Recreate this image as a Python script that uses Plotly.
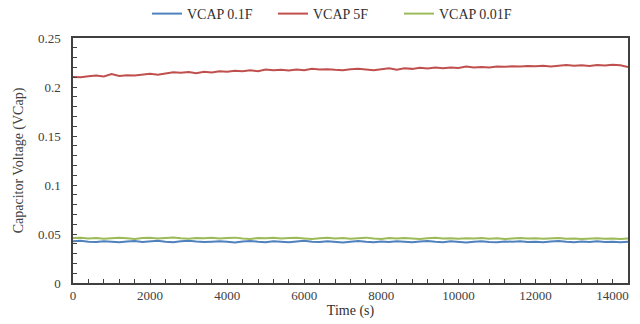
import plotly.graph_objects as go

time_s = list(range(0, 14401, 200))

vcap_5f = [
    0.2102, 0.2100, 0.2110, 0.2118, 0.2108, 0.2132, 0.2112, 0.2120, 0.2118, 0.2128,
    0.2135, 0.2125, 0.2140, 0.2150, 0.2145, 0.2152, 0.2140, 0.2155, 0.2148, 0.2160,
    0.2155, 0.2165, 0.2160, 0.2170, 0.2162, 0.2178, 0.2170, 0.2175, 0.2168, 0.2178,
    0.2172, 0.2185, 0.2178, 0.2182, 0.2175, 0.2170, 0.2180, 0.2186, 0.2178, 0.2170,
    0.2182, 0.2190, 0.2176, 0.2192, 0.2185, 0.2196, 0.2188, 0.2198, 0.2192, 0.2200,
    0.2195, 0.2208, 0.2198, 0.2205, 0.2200, 0.2210, 0.2206, 0.2212, 0.2208, 0.2215,
    0.2212, 0.2218, 0.2210, 0.2220, 0.2225, 0.2218, 0.2222, 0.2215, 0.2225, 0.2220,
    0.2228, 0.2222, 0.2205,
]

vcap_01f = [
    0.0425, 0.0430, 0.0422, 0.0418, 0.0426, 0.0420, 0.0415, 0.0424, 0.0428, 0.0419,
    0.0423, 0.0430, 0.0421, 0.0416, 0.0425, 0.0432, 0.0424, 0.0418, 0.0422, 0.0427,
    0.0420, 0.0414, 0.0423, 0.0429, 0.0421, 0.0417, 0.0426, 0.0422, 0.0416, 0.0424,
    0.0430, 0.0422, 0.0418, 0.0425, 0.0420, 0.0413, 0.0422, 0.0428, 0.0421, 0.0416,
    0.0424, 0.0419, 0.0426, 0.0421, 0.0415, 0.0423, 0.0429, 0.0420, 0.0417, 0.0425,
    0.0421, 0.0414, 0.0422, 0.0427, 0.0419, 0.0416, 0.0424, 0.0420, 0.0426, 0.0418,
    0.0422, 0.0415, 0.0423, 0.0428, 0.0420, 0.0417, 0.0424, 0.0419, 0.0425, 0.0418,
    0.0422, 0.0416, 0.0420,
]

vcap_001f = [
    0.0458, 0.0462, 0.0455, 0.0460, 0.0452, 0.0457, 0.0463, 0.0456, 0.0450, 0.0458,
    0.0461, 0.0455, 0.0459, 0.0464, 0.0456, 0.0452, 0.0460, 0.0457, 0.0462, 0.0454,
    0.0458, 0.0463, 0.0455, 0.0450, 0.0459, 0.0456, 0.0461, 0.0453, 0.0458, 0.0462,
    0.0455, 0.0448, 0.0457, 0.0461, 0.0454, 0.0459, 0.0452, 0.0457, 0.0463, 0.0455,
    0.0450, 0.0458, 0.0454, 0.0460, 0.0455, 0.0449, 0.0457, 0.0461, 0.0453, 0.0456,
    0.0451, 0.0457, 0.0454, 0.0459, 0.0452, 0.0456, 0.0450, 0.0455, 0.0458, 0.0453,
    0.0456, 0.0451, 0.0455, 0.0459, 0.0452, 0.0455, 0.0450, 0.0454, 0.0457, 0.0452,
    0.0455, 0.0450, 0.0453,
]

series = [
    ("VCAP 0.1F", vcap_01f, "#4F81BD"),
    ("VCAP 5F", vcap_5f, "#C0504D"),
    ("VCAP 0.01F", vcap_001f, "#9BBB59"),
]

font_family = "Liberation Serif, Times New Roman, serif"

fig = go.Figure()
for name, vals, color in series:
    fig.add_trace(go.Scatter(x=time_s, y=vals, name=name, mode="lines",
                             line=dict(color=color, width=2)))

axis_common = dict(
    showline=True, linecolor="#404040", linewidth=1.5, mirror=True,
    showgrid=False, zeroline=False,
    ticks="inside", ticklen=4, tickcolor="#404040", tickwidth=1,
    tickfont=dict(family=font_family, size=13, color="#404040"),
)

fig.update_xaxes(
    range=[0, 14400], dtick=2000, tick0=0, tickformat="d",
    minor=dict(ticks="inside", dtick=400, ticklen=4, tickcolor="#404040"),
    title=dict(text="Time (s)", font=dict(family=font_family, size=14, color="#303030"), standoff=2),
    **axis_common,
)
fig.update_yaxes(
    range=[0, 0.25], dtick=0.05, tick0=0, ticklabelstandoff=8,
    minor=dict(ticks="inside", dtick=0.01, ticklen=4, tickcolor="#404040"),
    title=dict(text="Capacitor Voltage (VCap)", font=dict(family=font_family, size=14, color="#404040"), standoff=11),
    **axis_common,
)

fig.update_layout(
    width=640, height=324,
    margin=dict(l=73, r=12, t=38, b=41, autoexpand=False),
    paper_bgcolor="white", plot_bgcolor="white",
    font=dict(family=font_family, size=13, color="#404040"),
    legend=dict(orientation="h", x=147 / 640, xanchor="left", xref="container",
                y=1 - 14 / 324, yanchor="middle", yref="container",
                font=dict(family=font_family, size=14, color="#303030"),
                entrywidth=81, entrywidthmode="pixels",
                itemwidth=30, bgcolor="rgba(0,0,0,0)"),
    showlegend=True,
)

fig.write_html("out.html", config={"displayModeBar": False},
               post_script="document.body.style.margin='0';")
